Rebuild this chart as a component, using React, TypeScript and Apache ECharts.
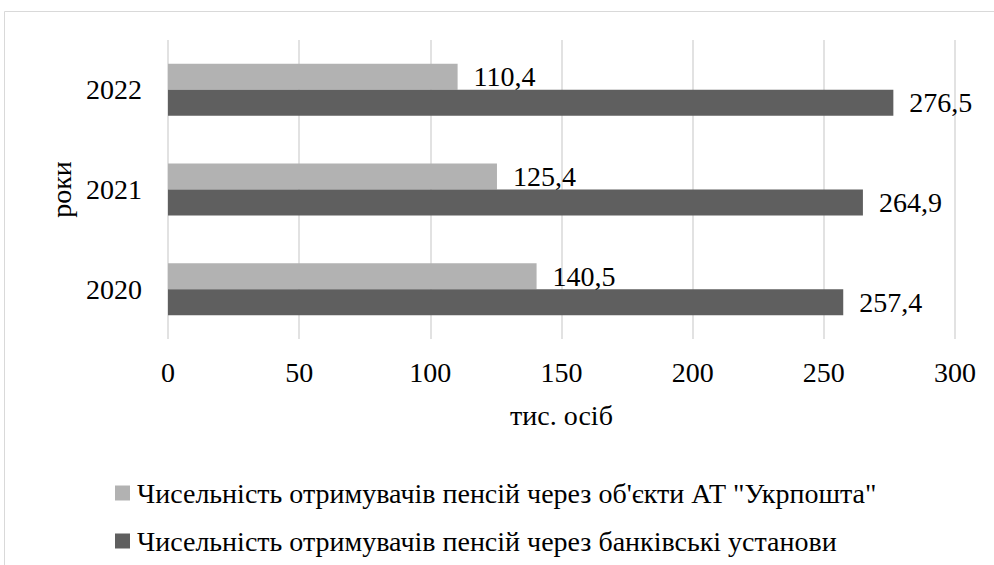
import React, { useEffect, useRef } from "react";
import * as echarts from "echarts";

const years = ["2020", "2021", "2022"];
const postRecipients = [140.5, 125.4, 110.4];
const bankRecipients = [257.4, 264.9, 276.5];
const seriesNames = [
  'Чисельність отримувачів пенсій через об\'єкти АТ "Укрпошта"',
  "Чисельність отримувачів пенсій через банківські установи",
];
const xAxisName = "тис. осіб";
const yAxisName = "роки";

const FONT = "Liberation Serif";
const FS = 28;

export default function App() {
  const ref = useRef<HTMLDivElement>(null);
  useEffect(() => {
    if (!ref.current) return;
    const chart = echarts.init(ref.current, null, { renderer: "svg" });
    const fmt = (p: any) => String(p.value).replace(".", ",");
    chart.setOption({
      animation: false,
      backgroundColor: "#ffffff",
      textStyle: { fontFamily: FONT },
      graphic: [
        {
          type: "rect",
          shape: { x: 4.5, y: 11.5, width: 1200, height: 800 },
          style: { fill: "none", stroke: "#d9d9d9", lineWidth: 1 },
          silent: true,
        },
      ],
      grid: { left: 168, right: 39, top: 40, bottom: 226, containLabel: false },
      xAxis: {
        type: "value",
        min: 0,
        max: 300,
        interval: 50,
        name: xAxisName,
        nameLocation: "middle",
        nameGap: 62,
        nameTextStyle: { fontFamily: FONT, fontSize: FS, color: "#000" },
        axisLine: { show: false },
        axisTick: { show: false },
        axisLabel: { fontFamily: FONT, fontSize: FS, color: "#000", margin: 19 },
        splitLine: { show: true, lineStyle: { color: "#d9d9d9", width: 1.5 } },
      },
      yAxis: {
        type: "category",
        data: years,
        name: yAxisName,
        nameLocation: "middle",
        nameRotate: 90,
        nameGap: 92,
        nameTextStyle: { fontFamily: FONT, fontSize: FS, color: "#000" },
        axisLine: { show: false },
        axisTick: { show: false },
        axisLabel: { fontFamily: FONT, fontSize: FS, color: "#000", margin: 26 },
        splitLine: { show: false },
      },
      legend: {
        orient: "vertical",
        left: 110,
        top: 474,
        itemWidth: 15,
        itemHeight: 15,
        itemGap: 20,
        icon: "rect",
        textStyle: { fontFamily: FONT, fontSize: FS, color: "#000", padding: [0, 0, 0, 2] },
        data: seriesNames,
      },
      series: [
        {
          name: seriesNames[0],
          type: "bar",
          data: postRecipients,
          barWidth: 26,
          barGap: "0%",
          itemStyle: { color: "#b2b2b2" },
          label: {
            show: true,
            position: "right",
            distance: 16,
            fontFamily: FONT,
            fontSize: FS,
            color: "#000",
            formatter: fmt,
          },
        },
        {
          name: seriesNames[1],
          type: "bar",
          data: bankRecipients,
          barWidth: 26,
          barGap: "0%",
          itemStyle: { color: "#5f5f5f" },
          label: {
            show: true,
            position: "right",
            distance: 16,
            fontFamily: FONT,
            fontSize: FS,
            color: "#000",
            formatter: fmt,
          },
        },
      ],
    });
    return () => chart.dispose();
  }, []);
  return (
    <div
      ref={ref}
      style={{ position: "fixed", left: 0, top: 0, width: 994, height: 565 }}
    />
  );
}
